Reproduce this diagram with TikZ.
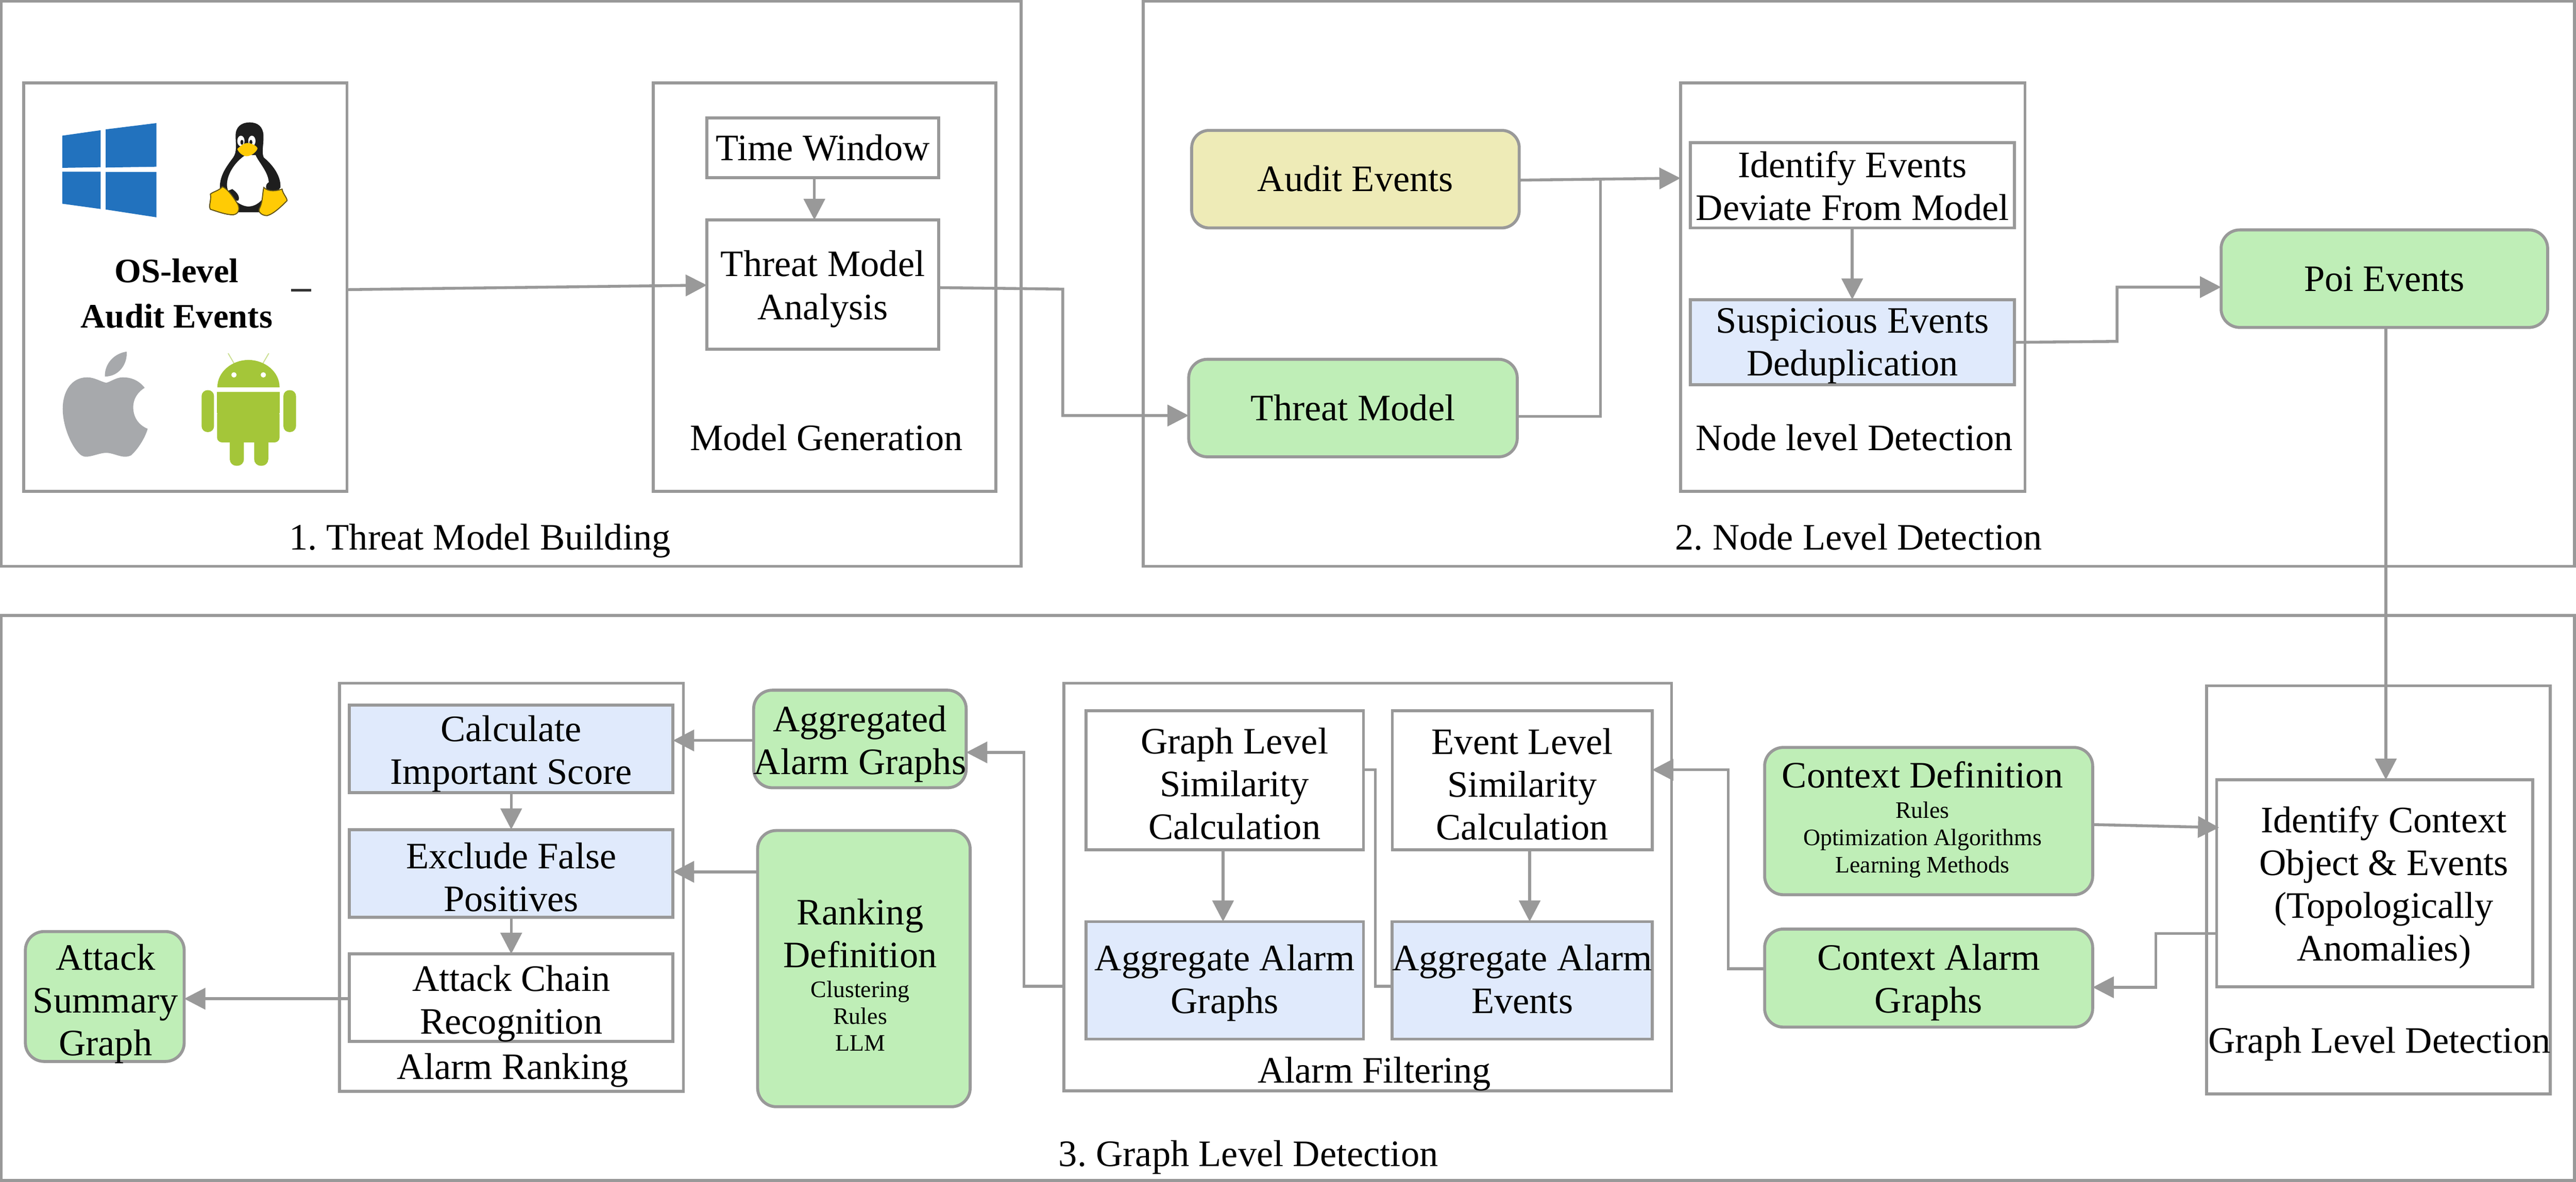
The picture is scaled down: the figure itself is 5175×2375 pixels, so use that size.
\documentclass[tikz,border=0pt]{standalone}
\usepackage{fontspec}
\setmainfont{Liberation Serif}
\usetikzlibrary{arrows.meta,calc}
\definecolor{linegray}{HTML}{999999}
\definecolor{mintgreen}{HTML}{BFEEB7}
\definecolor{paleblue}{HTML}{E0EAFC}
\definecolor{paleyellow}{HTML}{EEEBB7}
\definecolor{winblue}{HTML}{2272BE}
\definecolor{tuxyellow}{HTML}{FFCB05}
\definecolor{tuxblack}{HTML}{1E1E1E}
\definecolor{applegray}{HTML}{A7A9AC}
\definecolor{droid}{HTML}{A4C639}
\definecolor{droidlight}{HTML}{CBDF91}
\newcommand\subtxt{\fontsize{9.5}{11}\selectfont}
\newcommand\toplift[1]{\rule{0pt}{#1pt}}
\newcommand\bxn[7]{\node[#1,minimum width={(#5-#3)*0.2pt},minimum height={(#6-#4)*0.2pt}] (#2) at ({(#3+#5)/2},{(#4+#6)/2}) {#7};}
\tikzset{
  txt/.style={font=\fontsize{15}{17.2}\selectfont\frenchspacing,align=center,inner sep=0pt,outer sep=0pt,text=black,
    execute at begin node={\rule{0pt}{13.5pt}},execute at end node={\rule[-3.5pt]{0pt}{0pt}}},
  panel/.style={txt,inner ysep=-6pt,draw=linegray,line width=1.2pt,fill=white},
  plainbox/.style={panel},
  bluebox/.style={panel,fill=paleblue},
  greenbox/.style={panel,fill=mintgreen,rounded corners=7.5pt},
  yellowbox/.style={panel,fill=paleyellow,rounded corners=7pt},
  link/.style={draw=linegray,line width=1.15pt},
  arrowlink/.style={link,-{Triangle[length=8.5pt,width=8.5pt,fill=linegray]}},
  boldtxt/.style={txt,font=\fontsize{13.8}{18.2}\selectfont\bfseries}
}
\begin{document}
\begin{tikzpicture}[x=0.2pt,y=-0.2pt]
\useasboundingbox (0,0) rectangle (5175,2375);
% outer panels
\bxn{panel}{stageone}{2}{2}{2051}{1138}{}
\bxn{panel}{stagetwo}{2297}{2}{5172}{1138}{}
\bxn{panel}{stagethree}{2}{1237}{5172}{2372}{}
% group boxes
\bxn{panel}{osbox}{48}{167}{697}{987}{}
\bxn{panel}{modelgen}{1312}{167}{2001}{987}{}
\bxn{panel}{nodelevel}{3376}{167}{4068}{987}{}
\bxn{panel}{ranking}{682}{1373}{1373}{2193}{}
\bxn{panel}{filtering}{2137}{1373}{3358}{2192}{}
\bxn{panel}{graphlevel}{4433}{1378}{5123}{2198}{}
% stage 1
\bxn{plainbox}{timewin}{1420}{237}{1886}{357}{Time Window}
\bxn{plainbox}{tmanalysis}{1420}{442}{1886}{702}{\toplift{14.2}Threat Model\\Analysis}
% stage 2
\bxn{yellowbox}{audit}{2394}{262}{3052}{458}{Audit Events}
\bxn{greenbox}{threat}{2388}{722}{3048}{918}{Threat Model}
\bxn{plainbox}{identify}{3396}{287}{4047}{458}{\toplift{14.2}Identify Events\\Deviate From Model}
\bxn{bluebox}{suspicious}{3396}{602}{4047}{773}{\toplift{13.5}Suspicious Events\\Deduplication}
\bxn{greenbox}{poi}{4462}{462}{5118}{658}{Poi Events}
% stage 3
\bxn{plainbox}{idcontext}{4453}{1567}{5088}{1983}{}
\bxn{greenbox}{ctxdef}{3545}{1502}{4204}{1798}{}
\bxn{greenbox}{ctxalarm}{3545}{1867}{4204}{2064}{\toplift{14.2}Context Alarm\\Graphs}
\bxn{plainbox}{graphsim}{2182}{1428}{2739}{1708}{}
\bxn{plainbox}{eventsim}{2797}{1428}{3319}{1708}{\toplift{16.8}Event Level\\Similarity\\Calculation}
\bxn{bluebox}{agggraphs}{2182}{1852}{2739}{2088}{\toplift{12.8}Aggregate Alarm\\Graphs}
\bxn{bluebox}{aggevents}{2797}{1852}{3319}{2088}{\toplift{12.8}Aggregate Alarm\\Events}
\bxn{greenbox}{aggregated}{1522}{1387}{1933}{1583}{\toplift{14.8}Aggregated\\Alarm Graphs}
\bxn{greenbox}{rankdef}{1522}{1669}{1949}{2224}{}
\bxn{bluebox}{calc}{702}{1417}{1352}{1593}{\toplift{14.8}Calculate\\Important Score}
\bxn{bluebox}{exclude}{702}{1667}{1352}{1843}{\toplift{16.8}Exclude False\\Positives}
\bxn{plainbox}{chain}{702}{1917}{1352}{2093}{\toplift{15.4}Attack Chain\\Recognition}
\bxn{greenbox}{summary}{51}{1872}{370}{2133}{}
% free-standing labels
\node[txt] (lone) at (964,1080) {1. Threat Model Building};
\node[txt] (ltwo) at (3734,1080) {2. Node Level Detection};
\node[txt] (lthree) at (2508,2319) {3. Graph Level Detection};
\node[txt] (lgen) at (1660,880) {Model Generation};
\node[txt] (lnode) at (3725,880) {Node level Detection};
\node[txt] (lgraph) at (4780,2091) {Graph Level Detection};
\node[txt] (lfilter) at (2761,2151) {Alarm Filtering};
\node[txt] (lrank) at (1030,2144) {Alarm Ranking};
\node[txt] (tsummary) at (212,2018) {Attack\\Summary\\Graph};
\node[txt] (tidcontext) at (4789,1784) {Identify Context\\Object \& Events\\(Topologically\\Anomalies)};
\node[txt] (tgraphsim) at (2480,1583) {Graph Level\\Similarity\\Calculation};
\node[txt] (tctxdef) at (3862,1651) {Context Definition\\[-5.1pt]{\subtxt Rules}\\[-6.2pt]{\subtxt Optimization Algorithms}\\[-6.2pt]{\subtxt Learning Methods}};
\node[txt] (trankdef) at (1728,1968) {Ranking\\Definition\\[-5.2pt]{\subtxt Clustering}\\[-6.4pt]{\subtxt Rules}\\[-6.4pt]{\subtxt LLM}};
\node[boldtxt] (tos) at (355,598) {OS-level\\Audit Events};
% Windows logo
\begin{scope}[shift={(100,230)},scale=1/3]
\fill[winblue] (75,128) -- (307,95) -- (307,318) -- (75,322) -- cycle;
\fill[winblue] (337,90) -- (643,52) -- (643,315) -- (337,320) -- cycle;
\fill[winblue] (75,345) -- (307,345) -- (307,570) -- (75,538) -- cycle;
\fill[winblue] (337,347) -- (643,347) -- (643,620) -- (337,573) -- cycle;
% Tux
\fill[tuxblack] (1205,48) .. controls (1150,48) and (1120,80) .. (1120,125)
  .. controls (1120,180) and (1130,225) .. (1105,260)
  .. controls (1060,320) and (1025,370) .. (1025,440)
  -- (1090,590) -- (1280,590) -- (1390,440)
  .. controls (1395,370) and (1340,300) .. (1290,260)
  .. controls (1275,230) and (1290,180) .. (1288,125)
  .. controls (1285,75) and (1255,48) .. (1205,48) -- cycle;
\fill[white] (1180,245) .. controls (1130,275) and (1068,350) .. (1068,425)
  .. controls (1068,480) and (1130,550) .. (1195,555)
  .. controls (1270,555) and (1320,470) .. (1320,415)
  .. controls (1320,350) and (1260,290) .. (1240,245) -- cycle;
\fill[white] (1152,160) ellipse [x radius=22,y radius=32];
\fill[white] (1218,160) ellipse [x radius=22,y radius=32];
\fill[tuxblack] (1158,168) ellipse [x radius=9,y radius=15];
\fill[tuxblack] (1212,168) ellipse [x radius=9,y radius=15];
\fill[tuxyellow] (1130,208) .. controls (1150,190) and (1170,172) .. (1190,172)
  .. controls (1215,172) and (1250,190) .. (1252,205)
  .. controls (1245,230) and (1210,252) .. (1185,252)
  .. controls (1160,250) and (1135,225) .. (1130,208) -- cycle;
\fill[tuxblack] (1100,450) .. controls (1130,470) and (1150,500) .. (1135,520) -- (1110,520) -- (1075,460) -- cycle;
\fill[tuxblack] (1335,437) circle [radius=32];
\filldraw[fill=tuxyellow,draw=tuxblack!70!tuxyellow,line width=0.4pt] (1040,435)
  .. controls (1020,460) and (985,465) .. (968,480)
  .. controls (975,520) and (955,550) .. (968,572)
  .. controls (1010,585) and (1060,605) .. (1105,605)
  .. controls (1140,600) and (1145,570) .. (1135,545)
  .. controls (1115,510) and (1075,450) .. (1040,435) -- cycle;
\filldraw[fill=tuxyellow,draw=tuxblack!70!tuxyellow,line width=0.4pt] (1290,440)
  .. controls (1320,470) and (1370,460) .. (1400,450)
  .. controls (1405,480) and (1430,500) .. (1430,520)
  .. controls (1400,550) and (1350,600) .. (1310,610)
  .. controls (1280,610) and (1255,590) .. (1262,570)
  .. controls (1285,530) and (1280,480) .. (1290,440) -- cycle;
\end{scope}
% Apple and Android logos
\begin{scope}[shift={(100,690)},scale=1/3]
\fill[applegray] (340,238) .. controls (300,228) and (270,205) .. (225,205)
  .. controls (130,205) and (78,290) .. (78,395)
  .. controls (78,510) and (140,640) .. (190,675)
  .. controls (225,700) and (290,660) .. (340,660)
  .. controls (390,660) and (440,700) .. (490,675)
  .. controls (530,640) and (575,570) .. (590,515)
  .. controls (540,495) and (503,450) .. (503,385)
  .. controls (503,330) and (535,290) .. (572,268)
  .. controls (530,215) and (480,205) .. (440,205)
  .. controls (400,205) and (370,230) .. (340,238) -- cycle;
\fill[applegray] (332,200) .. controls (330,120) and (390,60) .. (463,50)
  .. controls (470,120) and (420,200) .. (332,200) -- cycle;
\draw[droidlight,line width=0.4pt] (1110,120) -- (1075,60);
\draw[droidlight,line width=0.4pt] (1285,120) -- (1320,60);
\fill[droid] (1010,265) .. controls (1010,170) and (1100,100) .. (1197,100)
  .. controls (1295,100) and (1385,170) .. (1385,265) -- cycle;
\fill[white] (1110,190) circle [radius=16];
\fill[white] (1287,190) circle [radius=16];
\fill[droid,rounded corners=2pt] (1008,400) -- (1008,597) -- (1385,597) -- (1385,400) -- cycle;
\fill[droid] (1008,292) rectangle (1385,420);
\fill[droid,rounded corners=2.4pt] (915,282) rectangle (990,535);
\fill[droid,rounded corners=2.4pt] (1408,282) rectangle (1484,535);
\fill[droid,rounded corners=2.6pt] (1085,560) rectangle (1170,738);
\fill[droid,rounded corners=2.6pt] (1232,560) rectangle (1317,738);
\end{scope}
\fill[black!80] (585,581) rectangle (625,586);
% connectors
\draw[arrowlink] (osbox.east |- 0,582) -- (tmanalysis.west |- 0,573);
\draw[arrowlink] (timewin.south -| 1636,0) -- (tmanalysis.north -| 1636,0);
\draw[arrowlink] (tmanalysis.east |- 0,578) -- (2135,581) -- (2135,835) -- (threat.west |- 0,835);
\draw[arrowlink] (audit.east |- 0,362) -- (nodelevel.west |- 0,358);
\draw[link] (threat.east |- 0,837) -- (3215,837) -- (3215,361);
\draw[arrowlink] (identify.south -| 3721,0) -- (suspicious.north -| 3721,0);
\draw[arrowlink] (suspicious.east |- 0,688) -- (4253,686) -- (4253,577) -- (poi.west |- 0,577);
\draw[arrowlink] (poi.south -| 4793,0) -- (idcontext.north -| 4793,0);
\draw[arrowlink] (ctxdef.east |- 0,1657) -- ($(idcontext.west |- 0,1663)+(5,0)$);
\draw[arrowlink] (idcontext.west |- 0,1876) -- (4331,1876) -- (4331,1984) -- (ctxalarm.east |- 0,1984);
\draw[arrowlink] (ctxalarm.west |- 0,1947) -- (3472,1947) -- (3472,1547) -- (eventsim.east |- 0,1547);
\draw[link] (graphsim.east |- 0,1547) -- (2763,1547) -- (2763,1982) -- (aggevents.west |- 0,1982);
\draw[arrowlink] (graphsim.south -| 2457,0) -- (agggraphs.north -| 2457,0);
\draw[arrowlink] (eventsim.south -| 3073,0) -- (aggevents.north -| 3073,0);
\draw[arrowlink] (filtering.west |- 0,1982) -- (2057,1982) -- (2057,1512) -- (aggregated.east |- 0,1512);
\draw[arrowlink] (aggregated.west |- 0,1488) -- (calc.east |- 0,1488);
\draw[arrowlink] (rankdef.west |- 0,1752) -- (exclude.east |- 0,1752);
\draw[arrowlink] (calc.south) -- (exclude.north);
\draw[arrowlink] (exclude.south) -- (chain.north);
\draw[arrowlink] (chain.west |- 0,2007) -- (summary.east |- 0,2007);
\end{tikzpicture}
\end{document}
